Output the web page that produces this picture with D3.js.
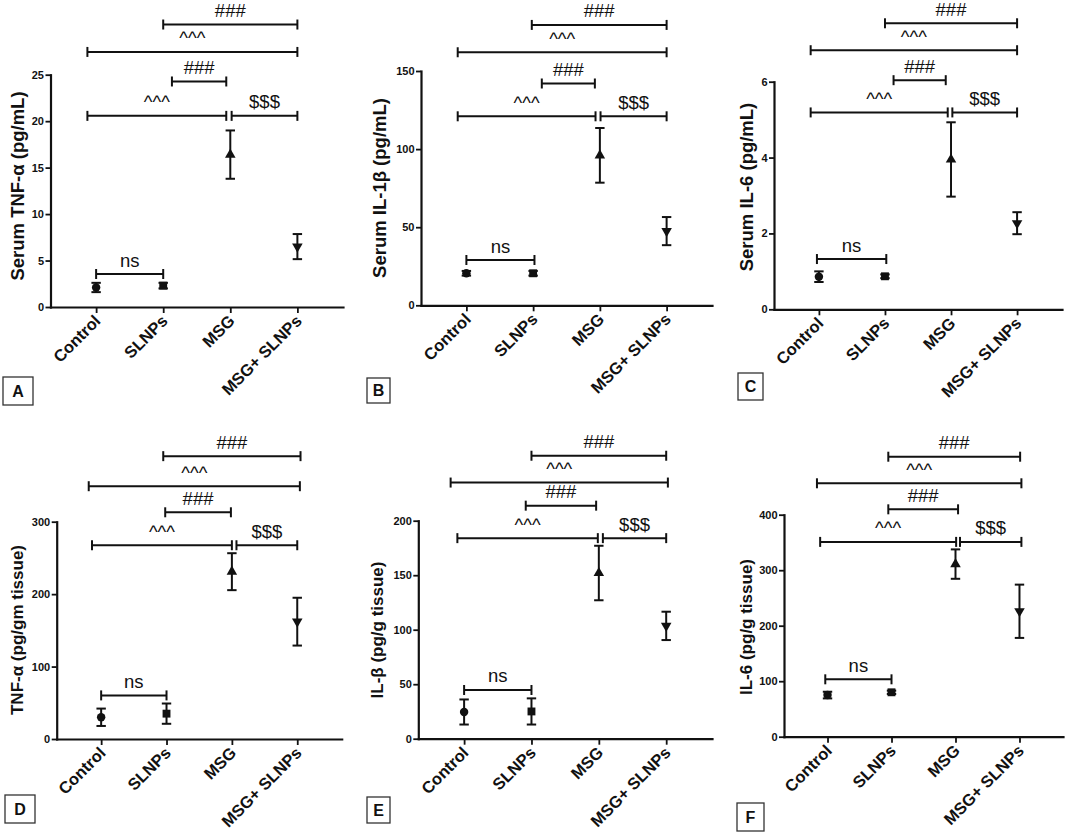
<!DOCTYPE html>
<html><head><meta charset="utf-8">
<script src="https://cdn.jsdelivr.net/npm/d3@7"></script>
<style>
body{margin:0;background:#fff;}
svg{display:block;font-family:"Liberation Sans",Arial,sans-serif;}
</style></head><body>
<svg id="chart" width="1065" height="834"></svg>
<script>
// ---------------- DATA ----------------
const categories = ["Control", "SLNPs", "MSG", "MSG+ SLNPs"];
const panelLetters = ["A", "B", "C", "D", "E", "F"];
const yTitles = ["Serum TNF-α (pg/mL)", "Serum IL-1β (pg/mL)", "Serum IL-6 (pg/mL)",
                 "TNF-α (pg/gm tissue)", "IL-β (pg/g tissue)", "IL-6 (pg/g tissue)"];

// means and SEM per panel (order: Control, SLNPs, MSG, MSG+ SLNPs)
const serumTnfMean = [2.1, 2.3, 16.4, 6.5];
const serumTnfSem  = [0.5, 0.3, 2.6, 1.35];
const serumIl1bMean = [20.5, 20.5, 96, 47.5];
const serumIl1bSem  = [1.5, 1.5, 17.5, 9];
const serumIl6Mean = [0.86, 0.87, 3.95, 2.27];
const serumIl6Sem  = [0.14, 0.05, 0.98, 0.29];
const tissueTnfMean = [30, 35, 231, 162];
const tissueTnfSem  = [12, 14, 25.5, 33];
const tissueIlbMean = [24.5, 25, 152, 103.5];
const tissueIlbSem  = [11.5, 12, 25, 13];
const tissueIl6Mean = [75, 80, 311, 226];
const tissueIl6Sem  = [6, 3, 26.5, 48];

// y tick labels per panel
const serumTnfTicks = [0, 5, 10, 15, 20, 25];
const serumIl1bTicks = [0, 50, 100, 150];
const serumIl6Ticks = [0, 2, 4, 6];
const tissueTnfTicks = [0, 100, 200, 300];
const tissueIlbTicks = [0, 50, 100, 150, 200];
const tissueIl6Ticks = [0, 100, 200, 300, 400];

// significance brackets: [label, from (category index), to (category index), level (y value)]
const serumTnfBrackets = [["ns",0,1,3.55],["^^^",-0.13,1.94,20.57],["$$$",2.02,3,20.57],["###",1.13,1.94,24.27],["^^^",-0.13,3,27.45],["###",1,3,30.4]];
const serumIl1bBrackets = [["ns",0,1.02,29],["^^^",-0.13,1.935,121],["$$$",2.01,3,121],["###",1.13,1.925,142],["^^^",-0.13,3,162],["###",0.98,3,179.5]];
const serumIl6Brackets = [["ns",-0.03,1.02,1.325],["^^^",-0.125,1.95,5.19],["$$$",2.02,3,5.19],["###",1.13,1.92,6.04],["^^^",-0.125,3,6.83],["###",1,3,7.54]];
const tissueTnfBrackets = [["ns",0,1,60.2],["^^^",-0.14,2.0,267.5],["$$$",2.07,3,267.5],["###",0.98,1.985,313],["^^^",-0.19,3.04,349],["###",0.95,3.05,390.5]];
const tissueIlbBrackets = [["ns",0,1,44.7],["^^^",-0.1,1.985,184],["$$$",2.06,3,184],["###",0.915,1.96,213.8],["^^^",-0.2,3.025,235],["###",1,3,259.6]];
const tissueIl6Brackets = [["ns",-0.035,1,103.4],["^^^",-0.115,2.01,351],["$$$",2.07,3.03,351],["###",0.95,2.04,409.7],["^^^",-0.165,3.03,456.6],["###",0.95,3.01,504.5]];

const panelMeans = [serumTnfMean, serumIl1bMean, serumIl6Mean, tissueTnfMean, tissueIlbMean, tissueIl6Mean];
const panelSems = [serumTnfSem, serumIl1bSem, serumIl6Sem, tissueTnfSem, tissueIlbSem, tissueIl6Sem];
const panelTicks = [serumTnfTicks, serumIl1bTicks, serumIl6Ticks, tissueTnfTicks, tissueIlbTicks, tissueIl6Ticks];
const panelBrackets = [serumTnfBrackets, serumIl1bBrackets, serumIl6Brackets, tissueTnfBrackets, tissueIlbBrackets, tissueIl6Brackets];

// ---------------- LAYOUT ----------------
const layout = [
  {left: 50.5, right: 343, bottom: 307, top: 74.7, tx: 19, ty: 186, tfs: 18.5, box: [3, 377, 30, 28]},
  {left: 421, right: 712, bottom: 305.3, top: 71, tx: 381, ty: 188, tfs: 18.5, box: [367, 378, 23, 25]},
  {left: 774, right: 1062, bottom: 309.3, top: 81.7, tx: 748, ty: 187, tfs: 18.5, box: [738, 373, 25, 27]},
  {left: 56.7, right: 341.7, bottom: 739, top: 521.7, tx: 19, ty: 630, tfs: 17, box: [5, 795, 30, 28]},
  {left: 418.3, right: 712, bottom: 738.7, top: 520.7, tx: 379, ty: 630, tfs: 17, box: [367, 797, 23, 26]},
  {left: 784, right: 1063, bottom: 736.7, top: 514.7, tx: 748, ty: 627, tfs: 17, box: [737, 803, 27, 28]}
];

const ink = "#111";
const fontFam = "'Liberation Sans', Arial, sans-serif";
const symbols = [d3.symbolCircle, d3.symbolSquare, d3.symbolTriangle, d3.symbolTriangle];
const symbolSizes = [56, 62, 48, 48];
const symbolRot = [0, 0, 0, 180];

const svg = d3.select("#chart");

panelMeans.forEach((means, i) => {
  const L = layout[i];
  const ticks = panelTicks[i];
  const sems = panelSems[i];
  const g = svg.append("g");

  const x = d3.scalePoint().domain(categories).range([L.left, L.right]).padding(0.68);
  const y = d3.scaleLinear().domain([0, ticks[ticks.length - 1]]).range([L.bottom, L.top]);
  const step = x.step();
  const x0 = x(categories[0]);

  // y axis
  const ya = g.append("g")
    .attr("transform", `translate(${L.left},0)`)
    .call(d3.axisLeft(y).tickValues(ticks).tickFormat(d3.format("~g"))
      .tickSize(5).tickSizeOuter(0).tickPadding(1.5));
  ya.select(".domain").attr("stroke", ink).attr("stroke-width", 2.2).attr("stroke-linecap", "square");
  ya.selectAll(".tick line").attr("stroke", ink).attr("stroke-width", 1.8);
  ya.selectAll(".tick text").attr("fill", ink).style("font-size", "11px").style("font-weight", "bold")
    .style("font-family", fontFam);

  // x axis
  const xa = g.append("g")
    .attr("transform", `translate(0,${L.bottom})`)
    .call(d3.axisBottom(x).tickSize(6).tickSizeOuter(0));
  xa.select(".domain").attr("stroke", ink).attr("stroke-width", 2.2).attr("stroke-linecap", "square");
  xa.selectAll(".tick line").attr("stroke", ink).attr("stroke-width", 1.8);
  xa.selectAll(".tick text")
    .attr("fill", ink)
    .attr("x", null).attr("y", null).attr("dy", null)
    .attr("transform", "translate(5,15) rotate(-45)")
    .attr("text-anchor", "end")
    .style("font-size", "16.5px").style("font-weight", "bold")
    .style("font-family", fontFam);

  // y title
  g.append("text")
    .attr("transform", `translate(${L.tx},${L.ty}) rotate(-90)`)
    .attr("text-anchor", "middle")
    .attr("dy", "0.26em")
    .attr("fill", ink)
    .style("font-size", L.tfs + "px").style("font-weight", "bold")
    .text(yTitles[i]);

  // error bars
  const eb = g.append("g").attr("stroke", ink).attr("stroke-width", 2).attr("fill", "none");
  categories.forEach((c, k) => {
    const cx = x(c), yt = y(means[k] + sems[k]), yb = y(means[k] - sems[k]);
    eb.append("line").attr("x1", cx).attr("x2", cx).attr("y1", yt).attr("y2", yb);
    eb.append("line").attr("x1", cx - 4.7).attr("x2", cx + 4.7).attr("y1", yt).attr("y2", yt);
    eb.append("line").attr("x1", cx - 4.7).attr("x2", cx + 4.7).attr("y1", yb).attr("y2", yb);
  });

  // markers
  categories.forEach((c, k) => {
    g.append("path")
      .attr("d", d3.symbol().type(symbols[k]).size(symbolSizes[k])())
      .attr("transform", `translate(${x(c)},${y(means[k])}) rotate(${symbolRot[k]})`)
      .attr("fill", ink);
  });

  // brackets
  const bg = g.append("g");
  panelBrackets[i].forEach(b => {
    const [label, from, to, lvl] = b;
    const x1 = x0 + from * step, x2 = x0 + to * step, yy = y(lvl);
    bg.append("line").attr("x1", x1).attr("x2", x2).attr("y1", yy).attr("y2", yy)
      .attr("stroke", ink).attr("stroke-width", 2);
    [x1, x2].forEach(xe => bg.append("line").attr("x1", xe).attr("x2", xe)
      .attr("y1", yy - 5).attr("y2", yy + 5).attr("stroke", ink).attr("stroke-width", 2));
    bg.append("text").attr("x", (x1 + x2) / 2).attr("y", yy - 7.5)
      .attr("text-anchor", "middle").attr("fill", ink)
      .style("font-size", "18.5px")
      .text(label);
  });

  // panel letter box
  const [bx, by, bw, bh] = L.box;
  g.append("rect").attr("x", bx).attr("y", by).attr("width", bw).attr("height", bh)
    .attr("fill", "#fff").attr("stroke", "#333").attr("stroke-width", 1.3);
  g.append("text").attr("x", bx + bw / 2).attr("y", by + bh / 2).attr("dy", "0.36em")
    .attr("text-anchor", "middle").attr("fill", ink)
    .style("font-size", "16px").style("font-weight", "bold")
    .text(panelLetters[i]);
});
</script>
</body></html>
